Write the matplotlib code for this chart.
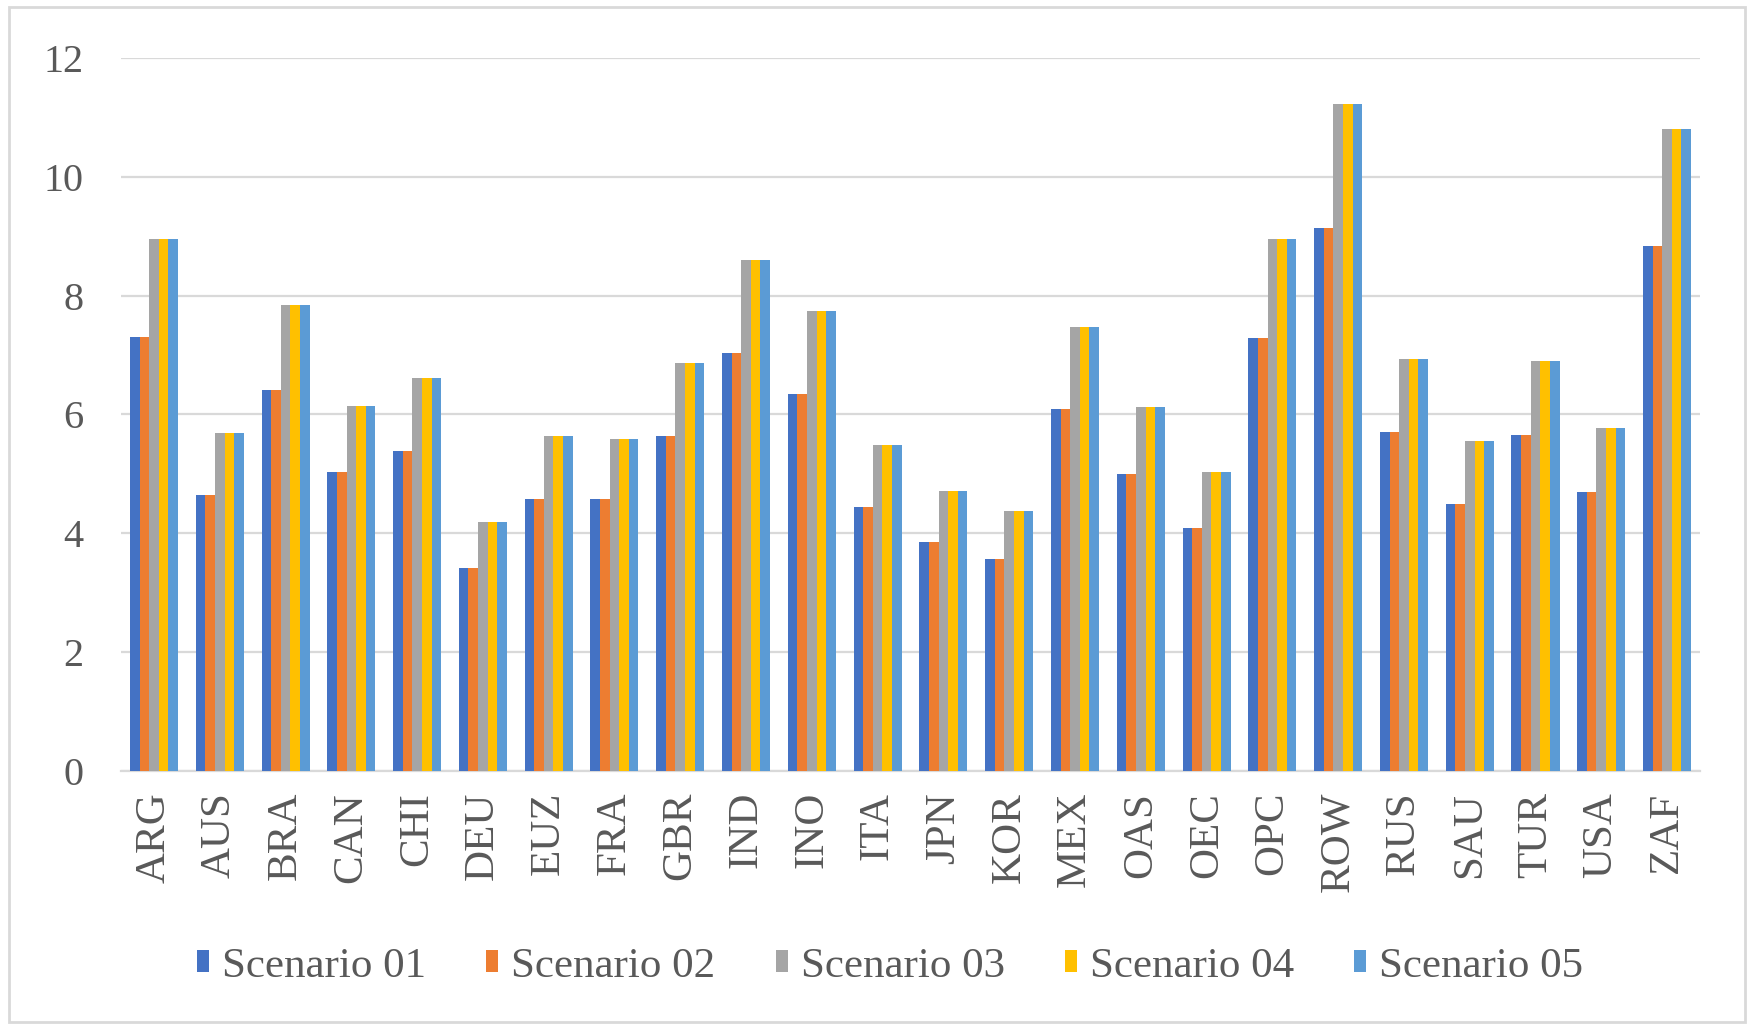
import numpy as np
import matplotlib
matplotlib.use('Agg')
import matplotlib.pyplot as plt
from matplotlib.patches import Rectangle

# Data
regions = ['ARG', 'AUS', 'BRA', 'CAN', 'CHI', 'DEU', 'EUZ', 'FRA', 'GBR', 'IND',
           'INO', 'ITA', 'JPN', 'KOR', 'MEX', 'OAS', 'OEC', 'OPC', 'ROW', 'RUS',
           'SAU', 'TUR', 'USA', 'ZAF']

scenario_01 = [7.30, 4.65, 6.41, 5.04, 5.38, 3.42, 4.58, 4.58, 5.63, 7.04,
               6.34, 4.45, 3.85, 3.57, 6.10, 5.00, 4.09, 7.29, 9.14, 5.70,
               4.50, 5.65, 4.69, 8.84]
scenario_02 = [7.30, 4.65, 6.41, 5.04, 5.38, 3.42, 4.58, 4.58, 5.63, 7.04,
               6.34, 4.45, 3.85, 3.57, 6.10, 5.00, 4.09, 7.29, 9.14, 5.70,
               4.50, 5.65, 4.69, 8.84]
scenario_03 = [8.96, 5.69, 7.84, 6.15, 6.61, 4.19, 5.63, 5.58, 6.87, 8.60,
               7.75, 5.49, 4.72, 4.38, 7.48, 6.13, 5.03, 8.95, 11.23, 6.94,
               5.55, 6.90, 5.77, 10.80]
scenario_04 = [8.96, 5.69, 7.84, 6.15, 6.61, 4.19, 5.63, 5.58, 6.87, 8.60,
               7.75, 5.49, 4.72, 4.38, 7.48, 6.13, 5.03, 8.95, 11.23, 6.94,
               5.55, 6.90, 5.77, 10.80]
scenario_05 = [8.96, 5.69, 7.84, 6.15, 6.61, 4.19, 5.63, 5.58, 6.87, 8.60,
               7.75, 5.49, 4.72, 4.38, 7.48, 6.13, 5.03, 8.95, 11.23, 6.94,
               5.55, 6.90, 5.77, 10.80]

series_names = ['Scenario 01', 'Scenario 02', 'Scenario 03', 'Scenario 04', 'Scenario 05']
series_values = [scenario_01, scenario_02, scenario_03, scenario_04, scenario_05]
colors = ['#4472C4', '#ED7D31', '#A5A5A5', '#FFC000', '#5B9BD5']
y_ticks = [0, 2, 4, 6, 8, 10, 12]

plt.rcParams['font.family'] = ['Liberation Serif', 'DejaVu Serif']
text_color = '#595959'
grid_color = '#D9D9D9'

fig = plt.figure(figsize=(17.52, 10.28), dpi=100)
ax = fig.add_axes([0.0691, 0.250, 0.9012, 0.6936])

x = np.arange(len(regions))
bar_w = 0.146
for i, (name, vals, c) in enumerate(zip(series_names, series_values, colors)):
    offset = (i - 2) * bar_w
    ax.bar(x + offset, vals, width=bar_w, color=c, label=name, zorder=3)

ax.set_xlim(-0.5, len(regions) - 0.5)
ax.set_ylim(0, 12)
ax.set_yticks(y_ticks)
ax.set_xticks(x)
ax.set_xticklabels(regions, rotation=90)

ax.yaxis.grid(True, color=grid_color, linewidth=1.6, zorder=0)
ax.set_axisbelow(True)
for side in ['top', 'right', 'left']:
    ax.spines[side].set_visible(False)
ax.spines['bottom'].set_color(grid_color)
ax.spines['bottom'].set_linewidth(1.6)

ax.tick_params(axis='y', length=0, pad=27, labelsize=29, labelcolor=text_color)
ax.tick_params(axis='x', length=0, pad=15, labelsize=31, labelcolor=text_color)

leg = fig.legend(loc='center', bbox_to_anchor=(0.508, 0.060), ncol=5, frameon=False,
                 fontsize=31, handlelength=0.28, handleheight=0.4,
                 handletextpad=0.3, columnspacing=1.4, labelcolor=text_color)

# light border round the chart area
fig.patches.append(Rectangle((0.005, 0.006), 0.991, 0.987, transform=fig.transFigure,
                             fill=False, edgecolor=grid_color, linewidth=2))

fig.savefig('out.png', dpi=100)
